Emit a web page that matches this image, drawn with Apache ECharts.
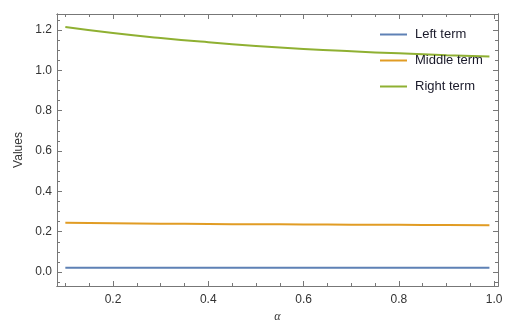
<!DOCTYPE html>
<html>
<head>
<meta charset="utf-8">
<script src="https://cdn.jsdelivr.net/npm/echarts@6/dist/echarts.min.js"></script>
<style>
  html, body { margin: 0; padding: 0; background: #fff; }
  #main { width: 521px; height: 326px; }
</style>
</head>
<body>
<div id="main"></div>
<script>
// values
var alphas = [0.1, 0.2, 0.3, 0.4, 0.5, 0.6, 0.7, 0.8, 0.9, 0.99];
var leftTerm = [0.021, 0.021, 0.021, 0.021, 0.021, 0.021, 0.021, 0.021, 0.021, 0.021];
var middleTerm = [0.244, 0.242, 0.240, 0.238, 0.237, 0.236, 0.235, 0.234, 0.233, 0.232];
var rightTerm = [1.215, 1.185, 1.160, 1.139, 1.121, 1.106, 1.094, 1.084, 1.075, 1.068];

var xLabels = [0.2, 0.4, 0.6, 0.8, 1.0];
var xMinor = [0.1, 0.15, 0.2, 0.25, 0.3, 0.35, 0.4, 0.45, 0.5, 0.55, 0.6, 0.65, 0.7, 0.75, 0.8, 0.85, 0.9, 0.95, 1.0];
var yLabels = [0.0, 0.2, 0.4, 0.6, 0.8, 1.0, 1.2];
var yMinor = [-0.05, 0.0, 0.05, 0.1, 0.15, 0.2, 0.25, 0.3, 0.35, 0.4, 0.45, 0.5, 0.55, 0.6, 0.65, 0.7, 0.75, 0.8, 0.85, 0.9, 0.95, 1.0, 1.05, 1.1, 1.15, 1.2, 1.25];

function pairs(ys) {
  return alphas.map(function (a, i) { return [a, ys[i]]; });
}

var frame = '#777';
var xMin = 0.0825, xMax = 1.008, yMin = -0.069, yMax = 1.279;

// one axis per tick set: minor ticks, then major ticks (no labels)
function xAxisDef(pos, ticks, len, labels) {
  return {
    type: 'value', position: pos, min: xMin, max: xMax,
    axisLine: { show: true, onZero: false, lineStyle: { color: frame, width: 1 } },
    axisTick: { show: true, inside: true, length: len, customValues: ticks, lineStyle: { color: frame } },
    axisLabel: labels ? {
      show: true, customValues: labels, color: '#333', fontSize: 12, fontFamily: 'Liberation Sans, Arial', margin: 8,
      formatter: function (v) { return v.toFixed(1); }
    } : { show: false },
    splitLine: { show: false }
  };
}
function yAxisDef(pos, ticks, len, labels) {
  return {
    type: 'value', position: pos, min: yMin, max: yMax,
    axisLine: { show: true, onZero: false, lineStyle: { color: frame, width: 1 } },
    axisTick: { show: true, inside: true, length: len, customValues: ticks, lineStyle: { color: frame } },
    axisLabel: labels ? {
      show: true, customValues: labels, color: '#333', fontSize: 12, fontFamily: 'Liberation Sans, Arial', margin: 5,
      formatter: function (v) { return v.toFixed(1); }
    } : { show: false },
    splitLine: { show: false }
  };
}

var xAxes = [
  xAxisDef('bottom', xMinor, 3, xLabels),
  xAxisDef('bottom', xLabels, 5, null),
  xAxisDef('top', xMinor, 3, null),
  xAxisDef('top', xLabels, 5, null)
];
xAxes[0].name = 'α';
xAxes[0].nameLocation = 'middle';
xAxes[0].nameGap = 25;
xAxes[0].nameTextStyle = { color: '#333', fontSize: 12, fontStyle: 'italic', fontFamily: 'Liberation Serif, Times New Roman' };

var yAxes = [
  yAxisDef('left', yMinor, 3, yLabels),
  yAxisDef('left', yLabels, 5, null),
  yAxisDef('right', yMinor, 3, null),
  yAxisDef('right', yLabels, 5, null)
];
yAxes[0].name = 'Values';
yAxes[0].nameLocation = 'middle';
yAxes[0].nameGap = 27;
yAxes[0].nameTextStyle = { color: '#333', fontSize: 12, fontFamily: 'Liberation Sans, Arial' };

var option = {
  animation: false,
  backgroundColor: '#fff',
  grid: { left: 57, right: 23, top: 14, bottom: 40, containLabel: false, outerBoundsMode: 'none' },
  legend: {
    orient: 'vertical', left: 380, top: 28, itemGap: 13, padding: 0,
    itemWidth: 27, itemHeight: 2, icon: 'rect',
    textStyle: { color: '#1a1a2a', fontSize: 13, fontFamily: 'Liberation Sans, Arial', padding: [0, 0, 0, 3] },
    data: ['Left term', 'Middle term', 'Right term']
  },
  xAxis: xAxes,
  yAxis: yAxes,
  series: [
    { name: 'Left term', type: 'line', data: pairs(leftTerm), showSymbol: false, smooth: true,
      itemStyle: { color: '#5e81b5' }, lineStyle: { width: 2, color: '#5e81b5' } },
    { name: 'Middle term', type: 'line', data: pairs(middleTerm), showSymbol: false, smooth: true,
      itemStyle: { color: '#e19c24' }, lineStyle: { width: 2, color: '#e19c24' } },
    { name: 'Right term', type: 'line', data: pairs(rightTerm), showSymbol: false, smooth: true,
      itemStyle: { color: '#8fb032' }, lineStyle: { width: 2, color: '#8fb032' } }
  ]
};

var chart = echarts.init(document.getElementById('main'));
chart.setOption(option);
</script>
</body>
</html>
